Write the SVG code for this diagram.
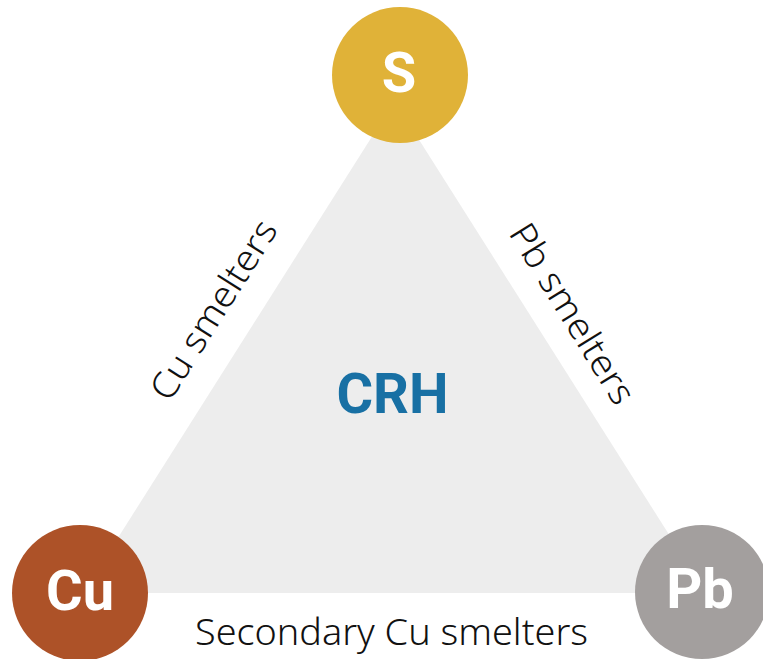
<svg xmlns="http://www.w3.org/2000/svg" width="763" height="659" viewBox="0 0 763 659">
<style>
.lbl{font-family:"Noto Sans","Liberation Sans",sans-serif;font-weight:300;font-size:36px;fill:#111111;text-anchor:middle}
.nt{font-family:Roboto,"Liberation Sans",sans-serif;font-weight:700;font-size:56px;fill:#ffffff;text-anchor:middle}
</style>
<rect width="763" height="659" fill="#ffffff"/>
<g id="connectors">
<polygon id="triangle" points="394.5,101 83,593 706,593" fill="#ededed"/>
</g>
<g id="labels">
<text class="lbl" transform="translate(214,310) rotate(-57.8)" x="0" y="12" textLength="205" lengthAdjust="spacingAndGlyphs">Cu smelters</text>
<text class="lbl" transform="translate(572,314) rotate(58.3)" x="0" y="12" textLength="205" lengthAdjust="spacingAndGlyphs">Pb smelters</text>
<text class="lbl" x="391.5" y="645" textLength="393" lengthAdjust="spacingAndGlyphs">Secondary Cu smelters</text>
</g>
<g id="node-CRH">
<text x="392.5" y="413" style="font-family:Roboto,'Liberation Sans',sans-serif;font-weight:700;font-size:56px;fill:#1870a4;text-anchor:middle">CRH</text>
</g>
<g id="node-S">
<circle cx="400" cy="75" r="68" fill="#e0b238"/>
<text class="nt" x="399" y="92">S</text>
</g>
<g id="node-Cu">
<circle cx="80" cy="593" r="68" fill="#ad5228"/>
<text class="nt" x="80" y="610">Cu</text>
</g>
<g id="node-Pb">
<circle cx="702" cy="592" r="67" fill="#a39f9e"/>
<text class="nt" x="700" y="608">Pb</text>
</g>
</svg>
